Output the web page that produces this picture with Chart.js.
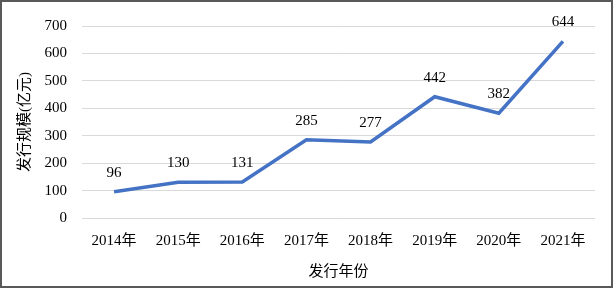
<!DOCTYPE html>
<html lang="zh">
<head>
    <meta charset="UTF-8">
    <title>发行规模</title>
    <script src="https://cdn.jsdelivr.net/npm/chart.js"></script>
    <style>
        html, body { margin: 0; padding: 0; background: #fff; }
        #wrap { width: 614px; height: 289px; }
    </style>
</head>
<body>
    <div id="wrap"><canvas id="lineChart" width="614" height="289"></canvas></div>

    <script>
        // chart data
        const years = ['2014年', '2015年', '2016年', '2017年', '2018年', '2019年', '2020年', '2021年'];
        const issueSize = [96, 130, 131, 285, 277, 442, 382, 644];
        const yTicks = [0, 100, 200, 300, 400, 500, 600, 700];

        const FONT = '"Liberation Serif", "Times New Roman", "Noto Sans CJK SC", serif';
        const LINE_COLOR = '#4472C4';

        // draws the value above each point
        const valueLabels = {
            id: 'valueLabels',
            afterDatasetsDraw(chart) {
                const ctx = chart.ctx;
                const meta = chart.getDatasetMeta(0);
                ctx.save();
                ctx.font = '15px ' + FONT;
                ctx.fillStyle = '#000';
                ctx.textAlign = 'center';
                ctx.textBaseline = 'middle';
                meta.data.forEach((pt, i) => {
                    ctx.fillText(String(chart.data.datasets[0].data[i]), pt.x, pt.y - 19);
                });
                ctx.restore();
            }
        };

        // white background + frame
        const frame = {
            id: 'frame',
            beforeDraw(chart) {
                const ctx = chart.ctx;
                ctx.save();
                ctx.fillStyle = '#fff';
                ctx.fillRect(0, 0, chart.width, chart.height);
                ctx.restore();
            },
            afterDraw(chart) {
                const ctx = chart.ctx;
                ctx.save();
                ctx.strokeStyle = '#595959';
                ctx.lineWidth = 2;
                ctx.strokeRect(1, 1, chart.width - 3, chart.height - 3);
                ctx.restore();
            }
        };

        new Chart(document.getElementById('lineChart').getContext('2d'), {
            type: 'line',
            data: {
                labels: years,
                datasets: [{
                    label: '发行规模',
                    data: issueSize,
                    borderColor: LINE_COLOR,
                    backgroundColor: LINE_COLOR,
                    borderWidth: 3.5,
                    pointRadius: 0,
                    tension: 0,
                    fill: false
                }]
            },
            options: {
                responsive: false,
                animation: false,
                layout: { padding: { left: 0, right: 19, top: 26, bottom: 8 } },
                plugins: {
                    legend: { display: false },
                    tooltip: { enabled: false }
                },
                scales: {
                    x: {
                        offset: true,
                        grid: { display: false },
                        border: { display: false },
                        ticks: { color: '#000', font: { family: FONT, size: 15 }, padding: 6, maxRotation: 0 },
                        title: { display: true, text: '发行年份', color: '#000', font: { family: FONT, size: 15 }, padding: { top: 4, bottom: 0 } },
                        afterFit(s) { s.height = 63; }
                    },
                    y: {
                        min: 0,
                        max: 700,
                        afterBuildTicks(s) { s.ticks = yTicks.map(v => ({ value: v })); },
                        grid: { color: '#d9d9d9', lineWidth: 1, drawTicks: false },
                        border: { display: false },
                        ticks: { color: '#000', font: { family: FONT, size: 15 }, padding: 15 },
                        title: { display: true, text: '发行规模(亿元)', color: '#000', font: { family: FONT, size: 15 }, padding: { top: 16, bottom: 0 } },
                        afterFit(s) { s.width = 82; }
                    }
                }
            },
            plugins: [frame, valueLabels]
        });
    </script>
</body>
</html>
